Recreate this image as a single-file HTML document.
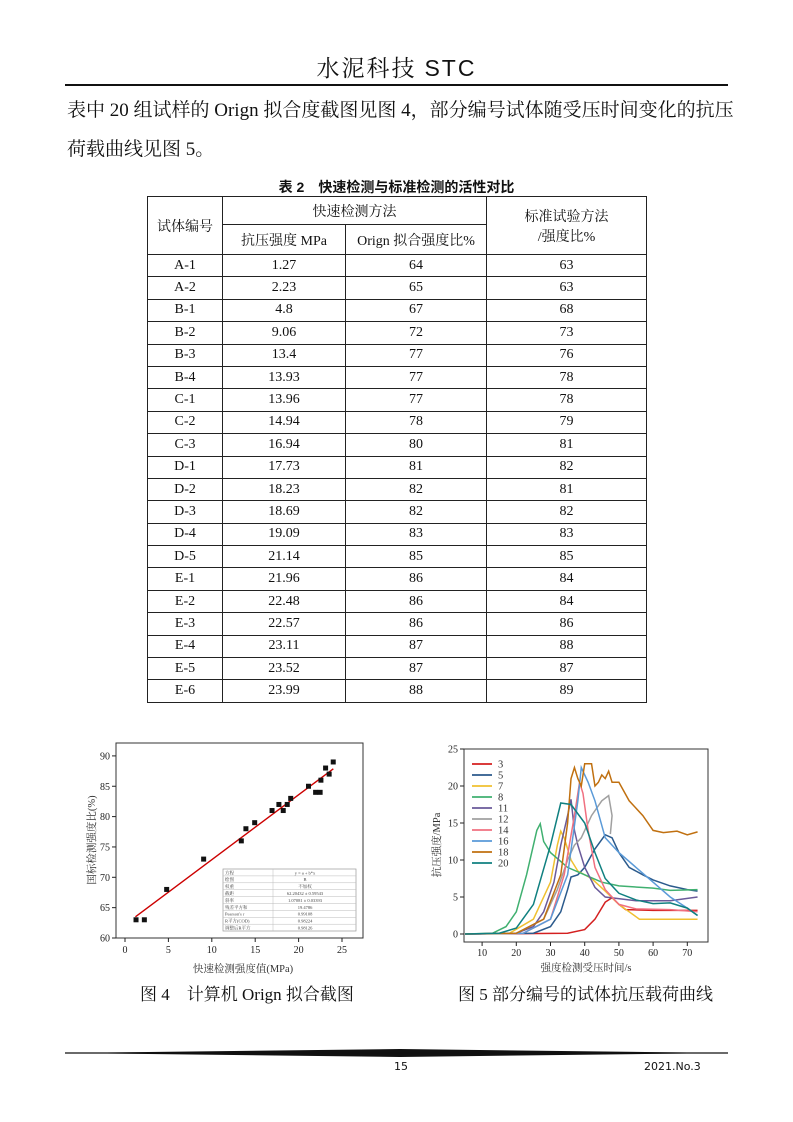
<!DOCTYPE html>
<html><head><meta charset="utf-8">
<style>
body{margin:0;background:#fff;}
#p{position:relative;width:793px;height:1122px;overflow:hidden;font-family:"Liberation Serif","Noto Serif CJK SC",serif;color:#111;}
.a{position:absolute;white-space:nowrap;}
table{position:absolute;left:147px;top:196px;border-collapse:collapse;font-size:14px;font-family:"Liberation Serif","Noto Serif CJK SC",serif;}
td{border:1px solid #222;text-align:center;padding:0;height:21.4px;}
</style></head><body><div id="p">
<div class="a" style="left:0;width:793px;text-align:center;top:50px;font-size:23px;font-family:'Noto Serif CJK SC','Liberation Sans',serif;letter-spacing:2px">水泥科技 <span style="font-family:'Liberation Sans',sans-serif">STC</span></div>
<div class="a" style="left:65px;top:84px;width:663px;height:2px;background:#111"></div>
<div class="a" style="left:67px;top:95px;font-size:19px">表中 20 组试样的 Orign 拟合度截图见图 4，部分编号试体随受压时间变化的抗压</div>
<div class="a" style="left:67px;top:134px;font-size:19px">荷载曲线见图 5。</div>
<div class="a" style="left:0;width:793px;text-align:center;top:177px;font-size:14px;font-weight:bold;font-family:'Liberation Sans','Noto Sans CJK SC',sans-serif">表 2　快速检测与标准检测的活性对比</div>
<table>
<tr><td rowspan="2" style="width:74px;height:57px">试体编号</td><td colspan="2" style="height:27px">快速检测方法</td><td rowspan="2" style="width:159px">标准试验方法<br>/强度比%</td></tr>
<tr><td style="width:122px;height:29px">抗压强度 MPa</td><td style="width:140px">Orign 拟合强度比%</td></tr>
<tr><td>A-1</td><td>1.27</td><td>64</td><td>63</td></tr>
<tr><td>A-2</td><td>2.23</td><td>65</td><td>63</td></tr>
<tr><td>B-1</td><td>4.8</td><td>67</td><td>68</td></tr>
<tr><td>B-2</td><td>9.06</td><td>72</td><td>73</td></tr>
<tr><td>B-3</td><td>13.4</td><td>77</td><td>76</td></tr>
<tr><td>B-4</td><td>13.93</td><td>77</td><td>78</td></tr>
<tr><td>C-1</td><td>13.96</td><td>77</td><td>78</td></tr>
<tr><td>C-2</td><td>14.94</td><td>78</td><td>79</td></tr>
<tr><td>C-3</td><td>16.94</td><td>80</td><td>81</td></tr>
<tr><td>D-1</td><td>17.73</td><td>81</td><td>82</td></tr>
<tr><td>D-2</td><td>18.23</td><td>82</td><td>81</td></tr>
<tr><td>D-3</td><td>18.69</td><td>82</td><td>82</td></tr>
<tr><td>D-4</td><td>19.09</td><td>83</td><td>83</td></tr>
<tr><td>D-5</td><td>21.14</td><td>85</td><td>85</td></tr>
<tr><td>E-1</td><td>21.96</td><td>86</td><td>84</td></tr>
<tr><td>E-2</td><td>22.48</td><td>86</td><td>84</td></tr>
<tr><td>E-3</td><td>22.57</td><td>86</td><td>86</td></tr>
<tr><td>E-4</td><td>23.11</td><td>87</td><td>88</td></tr>
<tr><td>E-5</td><td>23.52</td><td>87</td><td>87</td></tr>
<tr><td>E-6</td><td>23.99</td><td>88</td><td>89</td></tr>
</table>
<svg id="s" class="a" style="left:0;top:0" width="793" height="1122" font-family="Liberation Serif, Noto Serif CJK SC, serif"></svg>
<div class="a" style="left:140px;top:980px;font-size:17px">图 4　计算机 Orign 拟合截图</div>
<div class="a" style="left:458px;top:980px;font-size:17px">图 5  部分编号的试体抗压载荷曲线</div>
<svg class="a" style="left:0;top:1040px" width="793" height="30"><polygon points="65,13 400,9 728,13 400,17" fill="#111"/><line x1="65" y1="13" x2="728" y2="13" stroke="#111" stroke-width="1.2"/></svg>
<div class="a" style="left:394px;top:1060px;font-size:11px;font-family:'DejaVu Sans',sans-serif">15</div>
<div class="a" style="left:644px;top:1060px;font-size:11px;font-family:'DejaVu Sans',sans-serif">2021.No.3</div>
</div>
<script>
var s=document.getElementById('s'),h='';
function L(x1,y1,x2,y2,c,w){h+='<line x1="'+x1+'" y1="'+y1+'" x2="'+x2+'" y2="'+y2+'" stroke="'+(c||'#222')+'" stroke-width="'+(w||1)+'"/>';}
function T(x,y,t,sz,a,c,extra){h+='<text x="'+x+'" y="'+y+'" font-size="'+sz+'" text-anchor="'+(a||'middle')+'" fill="'+(c||'#333')+'" '+(extra||'')+'>'+t+'</text>';}
var X=function(x){return 125+x*8.68},Y=function(y){return 938-(y-60)*6.07};
h+='<rect x="116" y="743" width="247" height="195" fill="none" stroke="#333" stroke-width="1"/>';
for(var v=60;v<=90;v+=5){L(112,Y(v),116,Y(v));T(110,Y(v)+3.5,v,10,'end','#222');}
for(var v=0;v<=25;v+=5){L(X(v),938,X(v),942);T(X(v),953,v,10,'middle','#222');}
T(243,972,'快速检测强度值(MPa)',10.5);
T(95,840,'国标检测强度比(%)',10.5,'middle','#333','transform="rotate(-90 95 840)"');
L(X(1.2),Y(62.2+1.07*1.2),X(24),Y(62.2+1.07*24),'#c00',1.4);
[[1.27,63],[2.23,63],[4.8,68],[9.06,73],[13.4,76],[13.93,78],[14.94,79],[16.94,81],[17.73,82],[18.23,81],[18.69,82],[19.09,83],[21.14,85],[21.96,84],[22.48,84],[22.57,86],[23.11,88],[23.52,87],[23.99,89]].forEach(function(p){h+='<rect x="'+(X(p[0])-2.5)+'" y="'+(Y(p[1])-2.5)+'" width="5" height="5" fill="#111"/>';});
h+='<rect x="223" y="869" width="133" height="62" fill="#fff" stroke="#999" stroke-width="0.7"/>';
var rows=[['方程','y = a + b*x'],['绘图','B'],['权重','不加权'],['截距','62.20432 ± 0.59543'],['斜率','1.07081 ± 0.03393'],['残差平方和','19.4786'],["Pearson's r",'0.99108'],['R平方(COD)','0.98224'],['调整后R平方','0.98126']];
rows.forEach(function(r,i){var y=869+i*6.9;if(i)L(223,y,356,y,'#bbb',0.5);T(225,y+5.3,r[0],4.5,'start','#444');T(305,y+5.3,r[1],4.5,'middle','#444');});
L(273,869,273,931,'#bbb',0.5);
var U=function(x){return 465+(x-5)*3.42},V=function(y){return 934-y*7.4};
h+='<rect x="464" y="749" width="244" height="193" fill="none" stroke="#333" stroke-width="1"/>';
for(var v=0;v<=25;v+=5){L(460,V(v),464,V(v));T(458,V(v)+3.5,v,10,'end','#222');}
for(var v=10;v<=70;v+=10){L(U(v),942,U(v),946);T(U(v),956,v,10,'middle','#222');}
T(586,971,'强度检测受压时间/s',10.5);
T(440,845,'抗压强度/MPa',10.5,'middle','#333','transform="rotate(-90 440 845)"');
var C=[
['3','#d42020',[[5,0],[35,0.1],[40,0.6],[43,2],[46,4.3],[48,4.9],[50,4],[52,3.3],[60,3.2],[73,3.2]]],
['5','#2b5a8c',[[5,0],[25,0.1],[30,1],[33,3],[35,6],[36,7.7],[38,8],[40,9],[43,11.5],[46,13.4],[48,13],[50,11],[53,9],[57,8],[60,7.3],[65,6.5],[70,6],[73,5.8]]],
['7','#f0c030',[[5,0],[18,0.1],[25,2],[30,7],[32,12],[33,13.9],[34,13],[36,10],[38,8.5],[42,7.5],[46,5.8],[50,4],[53,3],[56,2],[60,2],[65,2],[73,2]]],
['8','#40b070',[[5,0],[13,0.1],[17,1],[20,3],[23,8],[26,14],[27,14.9],[28,12.5],[30,11],[35,9],[40,8],[45,7],[50,6.5],[60,6.2],[65,5.9],[73,6]]],
['11','#6a5a9a',[[5,0],[20,0.1],[25,1],[28,3],[31,7],[33,12],[35,16],[36,18.2],[37,14],[38,12],[40,9],[43,6.3],[46,5],[55,4.5],[65,4.5],[73,5]]],
['12','#a0a0a0',[[5,0],[20,0.1],[28,2],[32,6],[35,10],[37,12],[39,13],[42,16],[45,18],[47,18.7],[48,16],[47.5,13.5]]],
['14','#f07080',[[5,0],[22,0.1],[30,2],[34,8],[37,16],[38.5,20.5],[39.5,19],[41,14],[43,9],[46,6],[50,4],[55,3.4],[65,3.3],[73,3]]],
['16','#5a9ad8',[[5,0],[22,0.1],[30,2],[35,8],[38,18],[39,22.5],[41,20.5],[43,18],[46,13],[50,11],[55,9],[60,7],[65,5],[70,3.5],[73,2.5]]],
['18','#c07010',[[5,0],[20,0.1],[28,2],[33,8],[35,15],[36,21],[37,22.5],[38,21],[39,20],[40,23],[42,23],[43,20],[44,20.5],[45,21.5],[46,21],[47,22],[48,20.5],[50,20.5],[53,18],[57,16],[60,14],[63,13.7],[67,13.9],[70,13.4],[73,13.8]]],
['20','#108080',[[5,0],[15,0.1],[20,0.8],[25,4],[30,12],[33,17.7],[36,17.5],[40,15],[43,11],[46,7.5],[50,5.5],[55,4.6],[60,4.1],[65,4.2],[70,3.5],[73,2.5]]]];
C.forEach(function(c,i){h+='<polyline fill="none" stroke="'+c[1]+'" stroke-width="1.5" points="'+c[2].map(function(p){return U(p[0])+','+V(p[1]);}).join(' ')+'"/>';
var y=764+i*11;L(472,y,492,y,c[1],1.8);T(498,y+3.5,c[0],10.5,'start','#333');});
s.innerHTML=h;
</script>
</body></html>
